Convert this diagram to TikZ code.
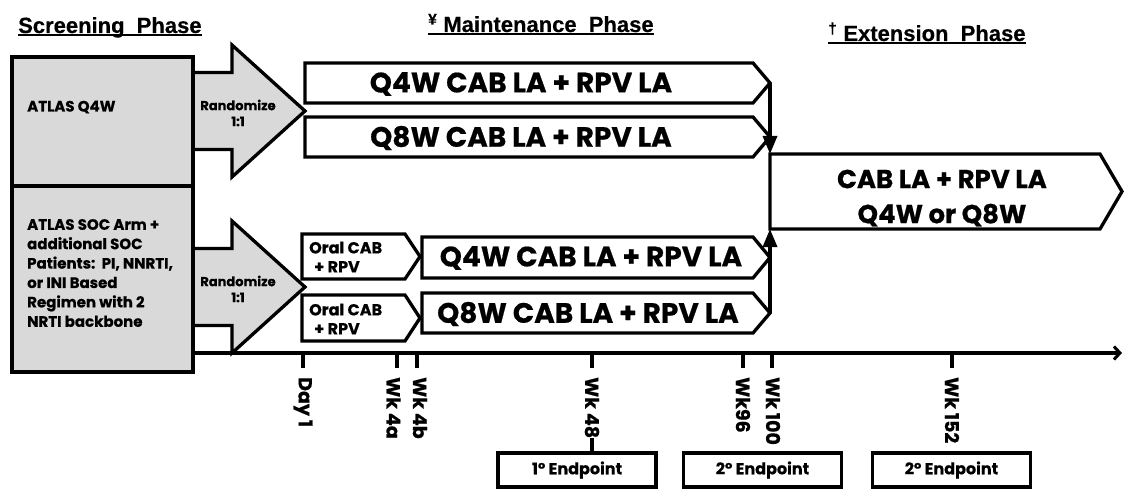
\documentclass[tikz,border=0pt]{standalone}
\usepackage{fontspec}
\setmainfont{Poppins}[BoldFeatures={FakeBold=0.6}]
\newfontfamily\headfont{Liberation Sans}[BoldFeatures={FakeBold=0.5}]
\usetikzlibrary{arrows.meta}
\definecolor{boxgray}{RGB}{217,217,217}

% bar with a pointed right end: name, left x, top y, tip x, bottom y, tip length
\newcommand{\chevbar}[6]{%
  \draw[barline] (#2,#3) -- ({#4-#6},#3) -- (#4,{(#3+#5)/2}) -- ({#4-#6},#5) -- (#2,#5) -- cycle;
  \coordinate (#1) at (#4,{(#3+#5)/2});
}
% block arrow leaving a screening box: name, centre y
\newcommand{\randarrow}[2]{%
  \draw[barline,fill=boxgray] (193,{#2-38.5}) -- (232,{#2-38.5}) -- (232,{#2-66}) -- (305,#2)
    -- (232,{#2+66}) -- (232,{#2+38.5}) -- (193,{#2+38.5});
  \coordinate (#1) at (305,#2);
}

\begin{document}
\begin{tikzpicture}[x=1pt,y=-1pt,
  barline/.style={line width=3.3pt,fill=white},
  phase/.style={font=\headfont\bfseries\fontsize{22}{26}\selectfont,inner sep=0pt,anchor=base west},
  uline/.style={line width=1.6pt},
  armtext/.style={font=\bfseries\fontsize{15}{19.4}\selectfont,align=left,anchor=west,inner sep=0pt},
  randtext/.style={font=\bfseries\fontsize{13}{16}\selectfont,align=center,inner sep=0pt},
  oraltext/.style={font=\bfseries\fontsize{16}{19}\selectfont,align=left,anchor=west,inner sep=0pt},
  bartext/.style={font=\bfseries\fontsize{28}{34}\selectfont,inner sep=0pt},
  exttext/.style={font=\bfseries\fontsize{26}{35}\selectfont,align=center,inner sep=0pt},
  ticklab/.style={font=\bfseries\fontsize{19}{21}\selectfont,rotate=-90,anchor=west,inner sep=0pt},
  endbox/.style={draw,line width=3.3pt,minimum width=158pt,minimum height=34pt,
    font=\bfseries\fontsize{16}{18}\selectfont},
  flow/.style={line width=3.3pt,-{Triangle[length=18pt,width=14pt]}},
  tick/.style={line width=3.3pt}
]
\useasboundingbox (0,0) rectangle (1124,489);

% phase headings
\node[phase] (hscr) at (18,33) {Screening\ \ Phase};
\node[phase] (hmain) at (428,32) {\textsuperscript{¥} Maintenance\ \ Phase};
\node[phase] (hext) at (828,41) {\textsuperscript{†} Extension\ \ Phase};
\foreach \h in {hscr,hmain,hext}
  \draw[uline] ([yshift=-2pt]\h.base west) -- ([yshift=-2pt]\h.base east);

% screening arms
\randarrow{r1}{111}
\randarrow{r2}{287}
\draw[barline,fill=boxgray] (12,57) rectangle (193,186);
\draw[barline,fill=boxgray] (12,186) rectangle (193,372);
\node[armtext] (atlas) at (27,107) {ATLAS Q4W};
\node[armtext] (soc) at (27,273) {ATLAS SOC Arm +\\additional SOC\\Patients:\ \ PI, NNRTI,\\or INI Based\\Regimen with 2\\NRTI backbone};
\node[randtext] (rand1) at (238,113) {Randomize\\1:1};
\node[randtext] (rand2) at (238,289) {Randomize\\1:1};

% maintenance bars
\chevbar{q4top}{305}{63}{770}{103}{17}
\chevbar{q8top}{305}{117}{770}{157}{17}
\chevbar{oral1}{302}{234}{420}{279}{15}
\chevbar{oral2}{302}{295}{420}{341}{15}
\chevbar{q4low}{422}{237}{770}{278}{17}
\chevbar{q8low}{422}{293}{770}{333}{17}
\node[bartext] (q4toplab) at (521,84) {Q4W CAB LA + RPV LA};
\node[bartext] (q8toplab) at (521,138) {Q8W CAB LA + RPV LA};
\node[bartext] (q4lowlab) at (591,258) {Q4W CAB LA + RPV LA};
\node[bartext] (q8lowlab) at (588,314) {Q8W CAB LA + RPV LA};
\node[oraltext] (oral1lab) at (309,257) {Oral CAB\\\hspace{5pt}+ RPV};
\node[oraltext] (oral2lab) at (309,319) {Oral CAB\\\hspace{5pt}+ RPV};

% extension
\chevbar{ext}{770}{154}{1122}{229}{22}
\coordinate (extnw) at (770,154);
\coordinate (extsw) at (770,229);
\node[exttext] (extlab) at (942,198) {CAB LA + RPV LA\\Q4W or Q8W};
\draw[flow] (q4top) -- (extnw);
\draw[flow] (q8low) -- (extsw);

% time line
\coordinate (axstart) at (193,353);
\coordinate (axend) at (1122,353);
\draw[line width=3.3pt,-{Straight Barb[length=6pt,width=13pt,line width=3pt]}] (axstart) -- (axend);
\foreach \x/\lx/\lab/\nm in {303/303/Day 1/d1,397/393.5/Wk 4a/w4a,417/420/Wk 4b/w4b,
    592/592/Wk 48/w48,743/743/Wk96/w96,772/773/Wk 100/w100,952/952/Wk 152/w152} {
  \draw[tick] (\x,353) -- (\x,368);
  \node[ticklab] (\nm) at (\lx,377) {\lab};
}

% endpoints
\node[endbox] (ep1) at (577,470) {1° Endpoint};
\node[endbox] (ep2) at (762.5,470) {2° Endpoint};
\node[endbox] (ep3) at (951.5,470) {2° Endpoint};
\draw[tick] (w48.east) -- (w48.east |- ep1.north);
\end{tikzpicture}
\end{document}
